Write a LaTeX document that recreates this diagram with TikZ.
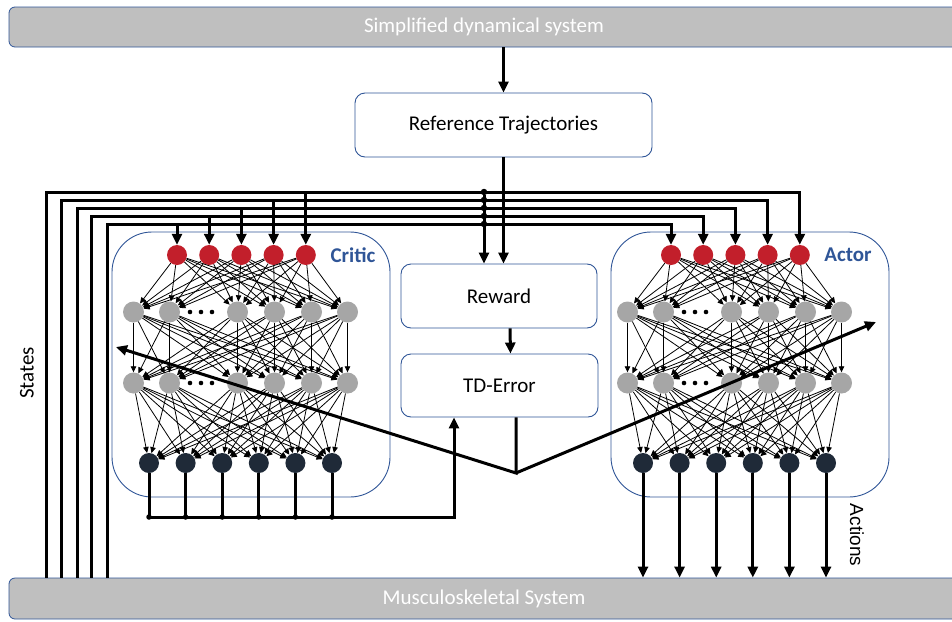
\documentclass[tikz,border=0pt]{standalone}
\usepackage{fontspec}
\setmainfont{Carlito}
\newfontfamily\actfont{Liberation Sans}
\usetikzlibrary{arrows.meta,positioning}

\definecolor{barfill}{HTML}{BFBFBF}
\definecolor{boxblue}{HTML}{2F5597}
\definecolor{nred}{HTML}{C21F2B}
\definecolor{ngray}{HTML}{A6A6A6}
\definecolor{ndark}{HTML}{1F2A38}

\tikzset{
  bar/.style={draw=boxblue, line width=0.8pt, fill=barfill, rounded corners=6pt, minimum width=950pt, minimum height=40pt, text=white, font=\fontsize{21}{25}\selectfont},
  blk/.style={draw=boxblue, line width=0.9pt, rounded corners=10pt, fill=white, font=\fontsize{21}{25}\selectfont},
  netbox/.style={draw=boxblue, line width=0.9pt, rounded corners=40pt, minimum width=278pt, minimum height=265pt},
  inp/.style={circle, fill=nred, minimum size=20pt, inner sep=0pt},
  hid/.style={circle, fill=ngray, minimum size=21pt, inner sep=0pt},
  outp/.style={circle, fill=ndark, minimum size=20pt, inner sep=0pt},
  link/.style={line width=0.8pt, -{Triangle[length=6pt,width=5.5pt]}},
  sig/.style={line width=3pt},
  sigarrow/.style={sig, -{Triangle[length=11pt,width=10pt]}},
  jdot/.style={circle, fill=black, minimum size=6.5pt, inner sep=0pt},
  netlabel/.style={text=boxblue, font=\bfseries\fontsize{21}{25}\selectfont}
}

\begin{document}
\begin{tikzpicture}[x=1pt, y=-1pt]
\useasboundingbox (0,0) rectangle (952,621);

\node (simsys) [bar] at (484,27) {Simplified dynamical system};
\node (musc) [bar, minimum height=41pt] at (484,598.5) {Musculoskeletal System};
\node (reftraj) [blk, minimum width=297pt, minimum height=64pt] at (503.5,125) {Reference Trajectories};
\node (reward) [blk, minimum width=196pt, minimum height=64pt] at (499,296) {Reward};
\node (tderr) [blk, minimum width=197pt, minimum height=63pt] at (499.5,385.5) {TD-Error};
\node (critic) [netbox] at (251,364.5) {};
\node (actor) [netbox] at (750,364.5) {};
\node (criticlbl) [netlabel] at (353,255) {Critic};
\node (actorlbl) [netlabel] at (848,255) {Actor};

% the two networks
\foreach \n/\dx in {c/0, a/494} {
  \foreach \i in {1,...,5}
    \node (\n-in\i) [inp] at ({177+32.2*(\i-1)+\dx},255) {};
  \foreach \x [count=\i] in {133.5,169.5,237.5,274.5,311.5,347.5} {
    \node (\n-h\i) [hid] at (\x+\dx,312) {};
    \node (\n-g\i) [hid] at (\x+\dx,383) {};
  }
  \foreach \i in {1,...,6}
    \node (\n-out\i) [outp] at ({149+36.6*(\i-1)+\dx},463) {};
  \foreach \y in {312,383}
    \foreach \x in {190,201,212}
      \fill (\x+\dx,\y) circle (2.3pt);
  \foreach \i in {1,...,5}
    \foreach \j in {1,...,6}
      \draw[link] (\n-in\i) -- (\n-h\j);
  \foreach \i in {1,...,6}
    \foreach \j in {1,...,6} {
      \draw[link] (\n-h\i) -- (\n-g\j);
      \draw[link] (\n-g\i) -- (\n-out\j);
    }
}

% states fed to both networks
\foreach \i/\sx/\sy in {1/107/224, 2/91/216, 3/77/208, 4/61/200, 5/46/192} {
  \coordinate (st\i) at (\sx,\sy);
  \draw[sigarrow] (musc.north -| st\i) -- (st\i) -- (st\i -| a-in\i) -- (a-in\i);
  \draw[sigarrow] (st\i -| c-in\i) -- (c-in\i);
  \node (jd\i) [jdot] at (484,\sy) {};
}
\draw[sigarrow] (jd5) -- (reward.north -| jd5);

\draw[sigarrow] (simsys.south -| reftraj.north) -- (reftraj.north);
\draw[sigarrow] (reftraj.south) -- (reward.north -| reftraj.south);
\draw[sigarrow] ([xshift=11pt]reward.south) -- ([xshift=11pt]tderr.north);

% critic value to TD-Error
\coordinate (bus) at (454,517);
\foreach \i in {1,...,6} {
  \draw[sig] (c-out\i) -- (c-out\i |- bus);
  \node (bd\i) [jdot, minimum size=5.5pt] at (c-out\i |- bus) {};
}
\draw[sigarrow] (c-out1 |- bus) -- (bus) -- (tderr.south -| bus);

% actions
\foreach \i in {1,...,6}
  \draw[sigarrow] (a-out\i) -- (a-out\i |- musc.north);

% TD-Error update
\coordinate (vtx) at (516,473);
\coordinate (cupd) at (116,347);
\coordinate (aupd) at (876,322);
\draw[sigarrow] (tderr.south -| vtx) -- (vtx) -- (cupd);
\draw[sigarrow] (vtx) -- (aupd);

\node (states) [rotate=90, font=\fontsize{21}{25}\selectfont] at (27,373) {States};
\node (actions) [rotate=-90, font=\actfont\fontsize{19}{22}\selectfont] at (857,535) {Actions};
\end{tikzpicture}
\end{document}
